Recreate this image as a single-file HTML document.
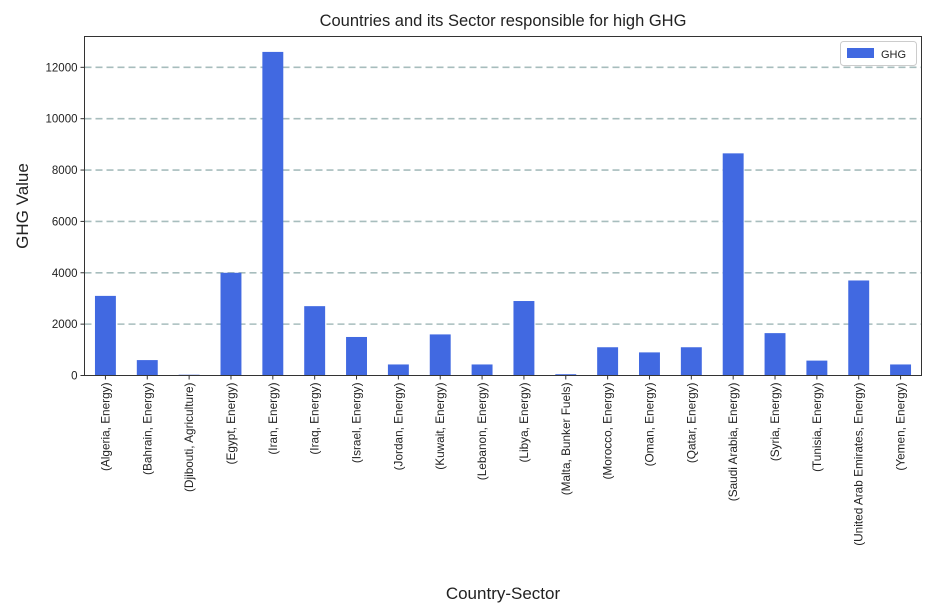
<!DOCTYPE html>
<html><head><meta charset="utf-8"><style>
body{margin:0;background:#fff;}
svg{display:block;font-family:"Liberation Sans","DejaVu Sans",sans-serif;}
</style></head><body>
<svg id="chart" width="940" height="611">
<text x="503" y="26" text-anchor="middle" font-size="16.5" fill="#222">Countries and its Sector responsible for high GHG</text>
<text transform="translate(28,206) rotate(-90)" text-anchor="middle" font-size="17" fill="#222">GHG Value</text>
<text x="503" y="599" text-anchor="middle" font-size="17" fill="#222">Country-Sector</text>
<g id="grid"></g><g id="bars"></g><g id="yticks"></g><g id="xticks"></g>
<rect x="84.5" y="36.5" width="837" height="339" fill="none" stroke="#333" stroke-width="1"/>
<g>
<rect x="840.5" y="41.5" width="76" height="24" rx="3" fill="#fff" stroke="#ccc"/>
<rect x="847" y="48" width="27" height="10" fill="#4169e1"/>
<text x="881" y="58" font-size="11" fill="#222">GHG</text>
</g>
</svg>
<script>
const categories=["(Algeria, Energy)","(Bahrain, Energy)","(Djibouti, Agriculture)","(Egypt, Energy)","(Iran, Energy)","(Iraq, Energy)","(Israel, Energy)","(Jordan, Energy)","(Kuwait, Energy)","(Lebanon, Energy)","(Libya, Energy)","(Malta, Bunker Fuels)","(Morocco, Energy)","(Oman, Energy)","(Qatar, Energy)","(Saudi Arabia, Energy)","(Syria, Energy)","(Tunisia, Energy)","(United Arab Emirates, Energy)","(Yemen, Energy)"];
const values=[3100,600,30,4000,12600,2700,1500,430,1600,430,2900,50,1100,900,1100,8650,1650,580,3700,430];
const yTicks=[0,2000,4000,6000,8000,10000,12000];
const NS="http://www.w3.org/2000/svg";
const L=84.5,R=921.5,T=36.5,B=375.5,yMax=13200;
function y(v){return B-(v/yMax)*(B-T);}
const step=(R-L)/categories.length;
function x(i){return L+step*(i+0.5);}
function mk(tag,attrs,parent){const e=document.createElementNS(NS,tag);for(const k in attrs)e.setAttribute(k,attrs[k]);document.getElementById(parent).appendChild(e);return e;}
yTicks.forEach(t=>{
  if(t>0){const g=mk("line",{x1:L,x2:R,y1:y(t),y2:y(t),stroke:"#a7bdbd","stroke-width":1.6,"stroke-dasharray":"7,4"},"grid");
  
  }
  const tk=mk("line",{x1:L-4,x2:L,y1:y(t),y2:y(t),stroke:"#333"},"yticks");
  
  
  const tx=mk("text",{x:L-7,y:y(t)+4,"text-anchor":"end","font-size":"11.5",fill:"#222"},"yticks");
  tx.textContent=t;
  
  
});
categories.forEach((c,i)=>{
  const w=step*0.5;
  const b=mk("rect",{x:x(i)-w/2,y:y(values[i]),width:w,height:B-y(values[i]),fill:"#4169e1"},"bars");
  
  
  const tk=mk("line",{x1:x(i),x2:x(i),y1:B,y2:B+4,stroke:"#333"},"xticks");
  
  
  const tx=mk("text",{transform:`translate(${x(i)+4},${B+7}) rotate(-90)`,"text-anchor":"end","font-size":"11.8",fill:"#222"},"xticks");
  tx.textContent=c;
  
  
});
</script>
</body></html>
